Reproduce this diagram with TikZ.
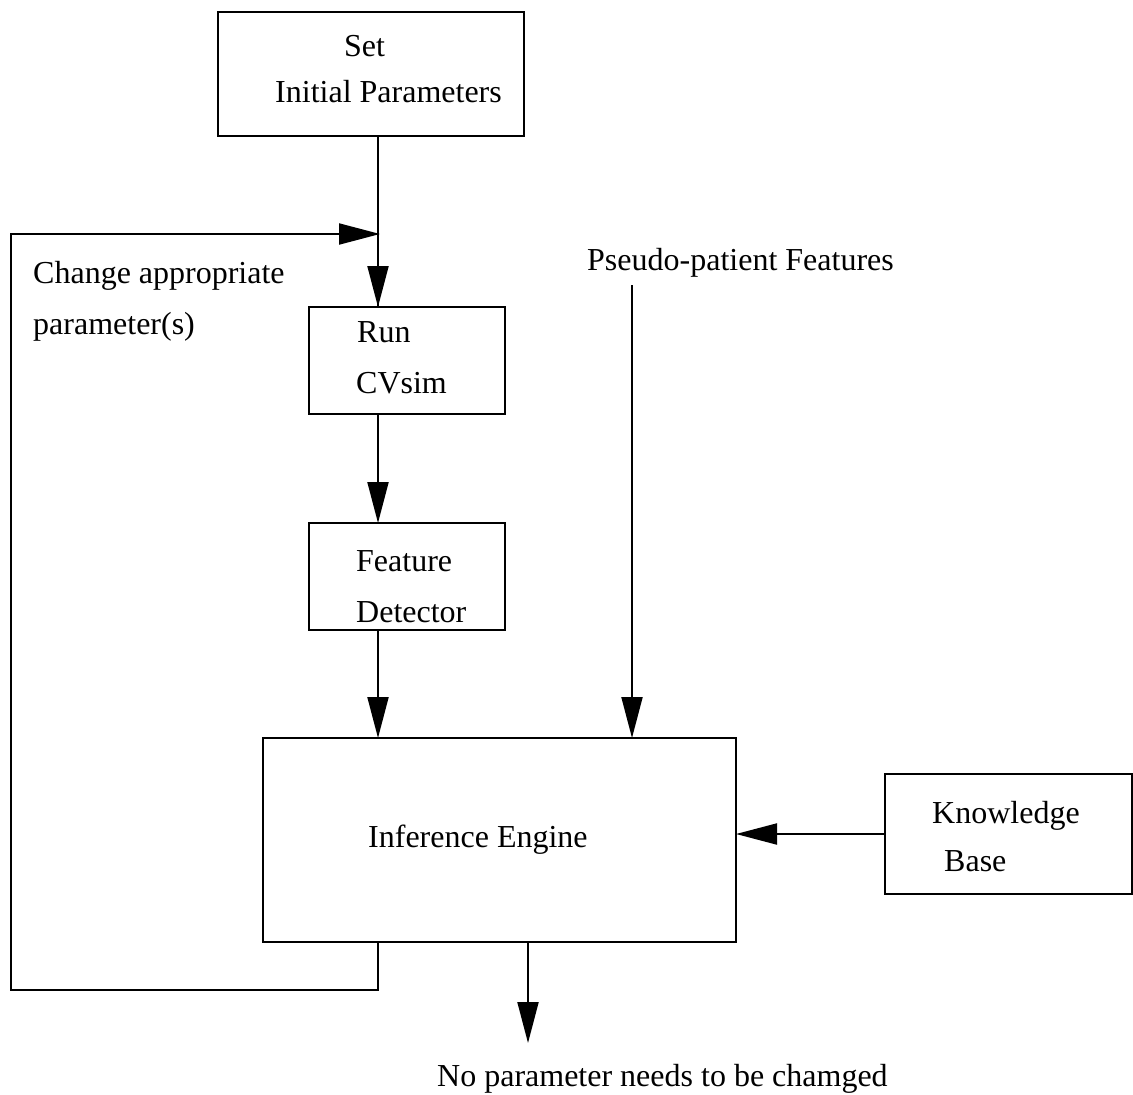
\documentclass[tikz,border=0pt]{standalone}
\usepackage{fontspec}
\setmainfont{Liberation Serif}
\usetikzlibrary{arrows.meta}
\begin{document}
\begin{tikzpicture}[x=1pt,y=-1pt,
  box/.style={draw,line width=1.3pt,inner sep=0pt,outer sep=0pt},
  lbl/.style={anchor=base west,inner sep=0pt,font=\fontsize{32}{38}\selectfont},
  arr/.style={line width=2pt,-{Triangle[length=41pt,width=21pt]}},
  plain/.style={line width=2pt}]
\useasboundingbox (0,0) rectangle (1133,1095);
% boxes
\node[box,minimum width=306pt,minimum height=124pt] (init) at (371,74) {};
\node[box,minimum width=196pt,minimum height=107pt] (run) at (407,360.5) {};
\node[box,minimum width=196pt,minimum height=107pt] (feat) at (407,576.5) {};
\node[box,minimum width=473pt,minimum height=204pt] (inf) at (499.5,840) {};
\node[box,minimum width=247pt,minimum height=120pt] (kb) at (1008.5,834) {};
% labels
\node[lbl] (tset) at (344,56) {Set};
\node[lbl] (tinit) at (275,102) {Initial Parameters};
\node[lbl] (trun) at (357,342) {Run};
\node[lbl] (tcv) at (356,393) {CVsim};
\node[lbl] (tfeat) at (356,571) {Feature};
\node[lbl] (tdet) at (356,622) {Detector};
\node[lbl] (tinf) at (368,847) {Inference Engine};
\node[lbl] (tknow) at (932,823) {Knowledge};
\node[lbl] (tbase) at (944,871) {Base};
\node[lbl] (tchg) at (33,283) {Change appropriate};
\node[lbl] (tpar) at (33,334) {parameter(s)};
\node[lbl] (tpseudo) at (587,270) {Pseudo-patient Features};
\node[lbl] (tno) at (437,1086) {No parameter needs to be chamged};
% coordinates
\coordinate (j) at (380,234);
\coordinate (cx) at (378,0);
\coordinate (px) at (632,0);
\coordinate (ox) at (528,0);
\coordinate (ptop) at (632,285);
\coordinate (lb1) at (378,990);
\coordinate (lb2) at (11,990);
\coordinate (lt) at (11,234);
\coordinate (otip) at (528,1043);
% connectors
\draw[plain] (init.south -| cx) -- (run.north -| cx);
\draw[arr] (lb1 |- j) -- (run.north -| cx);
\draw[arr] (run.south -| cx) -- (feat.north -| cx);
\draw[arr] (feat.south -| cx) -- (inf.north -| cx);
\draw[arr] (ptop) -- (inf.north -| px);
\draw[arr] (kb.west) -- (inf.east |- kb.west);
\draw[arr] (inf.south -| ox) -- (otip);
\draw[arr,line join=miter] (inf.south -| cx) -- (lb1) -- (lb2) -- (lt) -- (j);
\end{tikzpicture}
\end{document}
